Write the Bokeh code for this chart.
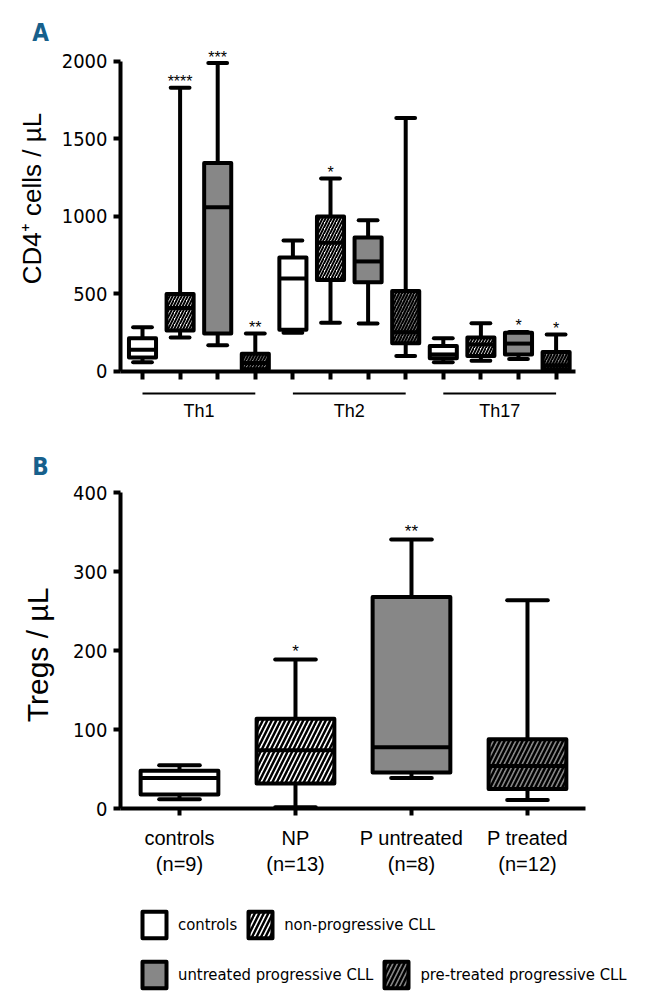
import math
from bokeh.plotting import figure
from bokeh.models import (Range1d, FixedTicker, Label, Legend, LegendItem, ColumnDataSource,
                          CustomLabelingPolicy)
from bokeh.layouts import column
from bokeh.embed import file_html
from bokeh.resources import INLINE
from bokeh.core.properties import value

# ---------------- data ----------------
groups = ["Th1", "Th2", "Th17"]
cohorts = ["controls", "non-progressive CLL", "untreated progressive CLL", "pre-treated progressive CLL"]

# Panel A: 12 boxes (3 subsets x 4 cohorts), CD4+ cells / uL
a_min = [60, 220, 170, 3, 250, 315, 310, 100, 60, 70, 80, 5]
a_q1 = [90, 265, 245, 15, 270, 590, 575, 183, 85, 100, 110, 15]
a_med = [140, 410, 1060, 55, 600, 830, 710, 254, 110, 175, 180, 40]
a_q3 = [215, 500, 1345, 115, 735, 1000, 865, 520, 165, 220, 250, 125]
a_max = [285, 1830, 1990, 245, 845, 1245, 975, 1635, 215, 312, 255, 239]
a_sig = ["", "****", "***", "**", "", "*", "", "", "", "", "*", "*"]
a_ticks = [0, 500, 1000, 1500, 2000]

# Panel B: Tregs / uL
b_labels = ["controls\n(n=9)", "NP\n(n=13)", "P untreated\n(n=8)", "P treated\n(n=12)"]
b_min = [12, 2, 39, 11]
b_q1 = [18, 32, 46, 25]
b_med = [39, 74, 78, 54]
b_q3 = [48, 114, 268, 88]
b_max = [55, 189, 341, 264]
b_sig = ["", "*", "**", ""]
b_ticks = [0, 100, 200, 300, 400]

# ---------------- styles ----------------
FILLS = ["white", "white", "#878787", "#878787"]
HATCH = [" ", "/", " ", "/"]
NARROW = "DejaVu Sans Condensed"
SANS = "Liberation Sans"
LETTER = "#17608c"


def style_axes(p):
    p.outline_line_color = None
    p.xgrid.visible = False
    p.ygrid.visible = False
    for ax in (p.xaxis[0], p.yaxis[0]):
        ax.axis_line_width = 4
        ax.axis_line_color = "black"
        ax.major_tick_line_width = 4
        ax.major_tick_line_color = "black"
        ax.major_tick_in = 0
        ax.major_tick_out = 7
        ax.minor_tick_line_color = None
    p.yaxis.major_label_text_font = NARROW
    p.yaxis.major_label_text_font_size = "20px"
    p.yaxis.major_label_text_color = "black"
    p.yaxis.major_label_standoff = 6


def boxes(p, n, mins, q1, med, q3, maxs, sig, width, cap, hscale, hweight, star_size, star_off):
    xs = list(range(n))
    coh = [i % 4 for i in xs]
    src = ColumnDataSource(dict(
        x=xs, mn=mins, q1=q1, med=med, q3=q3, mx=maxs,
        fill=[FILLS[c] for c in coh], hatch=[HATCH[c] for c in coh],
        cl=[x - cap / 2 for x in xs], cr=[x + cap / 2 for x in xs],
        bl=[x - width / 2 for x in xs], br=[x + width / 2 for x in xs],
    ))
    p.segment(x0="x", y0="q3", x1="x", y1="mx", line_width=4, line_color="black", source=src)
    p.segment(x0="x", y0="mn", x1="x", y1="q1", line_width=4, line_color="black", source=src)
    p.segment(x0="cl", y0="mx", x1="cr", y1="mx", line_width=4, line_color="black", line_cap="round", source=src)
    p.segment(x0="cl", y0="mn", x1="cr", y1="mn", line_width=4, line_color="black", line_cap="round", source=src)
    box = p.vbar(x="x", bottom="q1", top="q3", width=width, fill_color="fill",
                 hatch_pattern="hatch", hatch_color="black", hatch_scale=hscale, hatch_weight=hweight,
                 line_color="black", line_width=4, line_join="round", source=src)
    p.segment(x0="bl", y0="med", x1="br", y1="med", line_width=4, line_color="black", source=src)
    keep = [i for i in xs if sig[i]]
    ssrc = ColumnDataSource(dict(x=[xs[i] for i in keep], y=[maxs[i] for i in keep], t=[sig[i] for i in keep]))
    p.text(x="x", y="y", text="t", text_align="center", text_baseline="alphabetic",
           y_offset=star_off, text_font=value(SANS), text_font_size=star_size, text_color="black", source=ssrc)
    return box


# ---------------- panel A ----------------
# page px: category i at x = 142 + 37.6 i ; value v at y = 371 - 0.155 v
pa = figure(width=654, height=438, min_border=0,
            x_range=Range1d(-3.7766, 13.617), y_range=Range1d(-432.3, 2393.5),
            output_backend="svg", toolbar_location=None)
style_axes(pa)
pa.yaxis.fixed_location = -0.585
pa.yaxis.bounds = (0, 2000)
pa.yaxis.ticker = FixedTicker(ticks=a_ticks)
pa.xaxis.fixed_location = 0
pa.xaxis.bounds = (-0.585, 11.516)
pa.xaxis.ticker = FixedTicker(ticks=list(range(12)))
pa.xaxis.major_tick_out = 8
pa.xaxis.major_label_policy = CustomLabelingPolicy(code="for (const i of indices) { indices.unset(i) }")

boxes(pa, 12, a_min, a_q1, a_med, a_q3, a_max, a_sig, 0.72, 0.5, 6, 2, "16px", -6)

g_start = [4 * i for i in range(3)]
g_end = [4 * i + 3 for i in range(3)]
g_mid = [4 * i + 1.5 for i in range(3)]
pa.segment(x0=g_start, x1=g_end, y0=[-142] * 3, y1=[-142] * 3, line_width=2, line_color="black")
pa.text(x=g_mid, y=[-252] * 3, text=groups, text_align="center", text_baseline="middle",
        text_font=value(SANS), text_font_size="18px", text_color="black")
pa.add_layout(Label(x=-2.926, y=1116, text="CD4⁺ cells / µL", angle=math.pi / 2,
                    text_font=SANS, text_font_size="26px", text_color="black",
                    text_align="center", text_baseline="middle"))
pa.add_layout(Label(x=-2.713, y=2181, text="A", text_font=NARROW, text_font_style="bold",
                    text_font_size="24px", text_color=LETTER, text_align="center", text_baseline="middle"))

# ---------------- panel B (+ legend) ----------------
# page px: category i at x = 179 + 116 i ; value v at fig y = 370.3 - 0.79 v (page y = fig y + 438)
pb = figure(width=654, height=568, min_border=0,
            x_range=Range1d(-1.543, 4.095), y_range=Range1d(-250.3, 468.7),
            output_backend="svg", toolbar_location=None)
style_axes(pb)
pb.yaxis.fixed_location = -0.509
pb.yaxis.bounds = (0, 400)
pb.yaxis.ticker = FixedTicker(ticks=b_ticks)
pb.xaxis.fixed_location = 0
pb.xaxis.bounds = (-0.509, 3.5)
pb.xaxis.ticker = FixedTicker(ticks=list(range(4)))
pb.xaxis.major_label_overrides = {i: t for i, t in enumerate(b_labels)}
pb.xaxis.major_label_text_font = SANS
pb.xaxis.major_label_text_font_size = "20px"
pb.xaxis.major_label_text_color = "black"
pb.xaxis.major_label_standoff = 11

bbox = boxes(pb, 4, b_min, b_q1, b_med, b_q3, b_max, b_sig, 0.67, 0.35, 9, 2.5, "17px", -8)
pb.add_layout(Label(x=-1.22, y=194.7, text="Tregs / µL", angle=math.pi / 2,
                    text_font=SANS, text_font_size="30px", text_color="black",
                    text_align="center", text_baseline="middle"))
pb.add_layout(Label(x=-1.198, y=432, text="B", text_font=NARROW, text_font_style="bold",
                    text_font_size="24px", text_color=LETTER, text_align="center", text_baseline="middle"))


def make_legend(idx, loc):
    lg = Legend(items=[LegendItem(label=cohorts[i], renderers=[bbox], index=i) for i in idx],
                orientation="horizontal", location=loc,
                glyph_width=30, glyph_height=33, label_standoff=9, spacing=8,
                padding=0, margin=0, border_line_alpha=0, background_fill_alpha=0,
                label_text_font=NARROW, label_text_font_size="16.5px", label_text_color="black",
                label_height=33)
    pb.add_layout(lg)


make_legend([0, 1], (139, 65))
make_legend([2, 3], (139, 15))

layout = column(pa, pb)
open("out.html", "w").write(file_html(layout, INLINE))
